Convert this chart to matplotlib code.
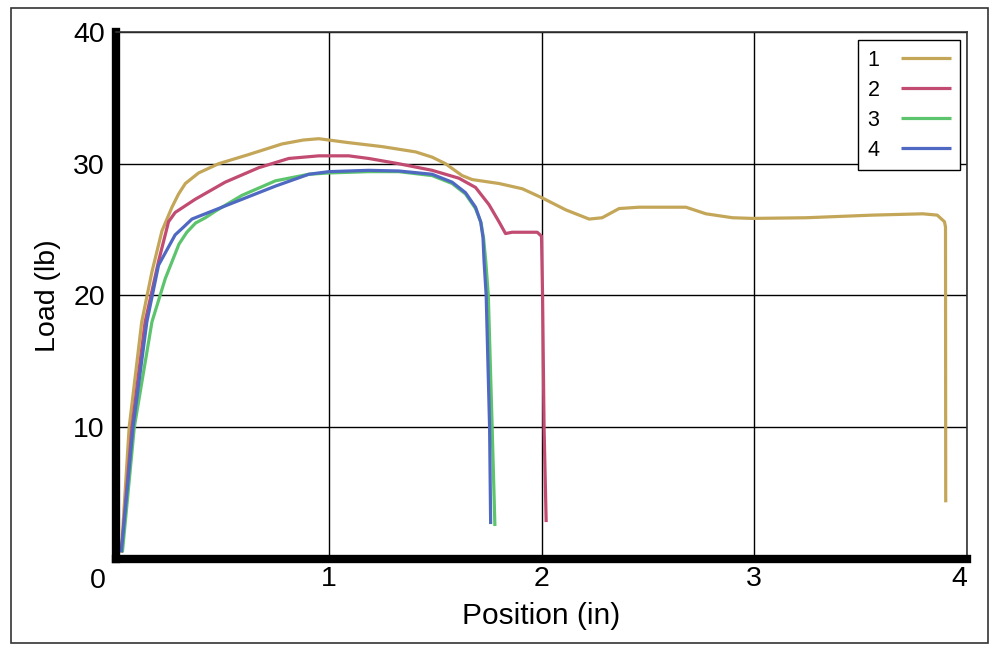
import matplotlib

matplotlib.use("Agg")
import matplotlib.pyplot as plt
from matplotlib.patches import Rectangle


# load vs position traces
POS_1 = [0.025, 0.062, 0.121, 0.169, 0.216, 0.263, 0.294, 0.326, 0.388, 0.482,
         0.624, 0.78, 0.88, 0.953, 1.0, 1.094, 1.251, 1.408, 1.486, 1.549,
         1.627, 1.674, 1.8, 1.91, 2.004, 2.114, 2.224, 2.285, 2.365, 2.459,
         2.679, 2.773, 2.898, 2.992, 3.243, 3.556, 3.792, 3.86, 3.894, 3.899,
         3.90]
LOAD_1 = [0.5, 10.0, 18.0, 21.8, 24.9, 26.7, 27.7, 28.5, 29.3, 30.0,
          30.7, 31.5, 31.8, 31.9, 31.8, 31.6, 31.3, 30.9, 30.5, 30.0,
          29.1, 28.8, 28.5, 28.1, 27.4, 26.5, 25.8, 25.9, 26.6, 26.7,
          26.7, 26.2, 25.9, 25.85, 25.9, 26.1, 26.2, 26.1, 25.6, 25.2,
          4.3]

POS_2 = [0.025, 0.075, 0.137, 0.2, 0.247, 0.278, 0.372, 0.513, 0.671, 0.812,
         0.953, 1.094, 1.188, 1.329, 1.486, 1.612, 1.69, 1.753, 1.8, 1.831,
         1.862, 1.98, 2.0, 2.005, 2.012, 2.022]
LOAD_2 = [0.5, 10.0, 18.0, 22.6, 25.6, 26.3, 27.3, 28.6, 29.7, 30.4,
          30.6, 30.6, 30.4, 30.0, 29.5, 28.9, 28.2, 26.9, 25.6, 24.7,
          24.8, 24.8, 24.5, 20.0, 10.0, 2.8]

POS_3 = [0.03, 0.086, 0.169, 0.232, 0.296, 0.333, 0.374, 0.42, 0.467, 0.592,
         0.749, 0.906, 1.0, 1.188, 1.329, 1.486, 1.58, 1.643, 1.69, 1.716,
         1.728, 1.738, 1.75, 1.768, 1.781]
LOAD_3 = [0.5, 10.0, 18.0, 21.3, 23.9, 24.8, 25.5, 25.9, 26.4, 27.6,
          28.7, 29.2, 29.3, 29.4, 29.4, 29.1, 28.5, 27.7, 26.6, 25.5,
          24.3, 22.6, 20.0, 10.0, 2.5]

POS_4 = [0.025, 0.08, 0.145, 0.2, 0.278, 0.318, 0.357, 0.388, 0.435, 0.592,
         0.749, 0.906, 1.0, 1.188, 1.329, 1.486, 1.58, 1.643, 1.69, 1.714,
         1.725, 1.73, 1.74, 1.756, 1.761]
LOAD_4 = [0.5, 10.0, 18.0, 22.3, 24.6, 25.2, 25.8, 26.0, 26.3, 27.3,
          28.3, 29.2, 29.4, 29.5, 29.45, 29.2, 28.6, 27.8, 26.7, 25.6,
          24.4, 22.6, 20.0, 10.0, 2.65]

SERIES = [
    ("1", POS_1, LOAD_1, "#c4a659"),
    ("2", POS_2, LOAD_2, "#c24b72"),
    ("3", POS_3, LOAD_3, "#5cc46c"),
    ("4", POS_4, LOAD_4, "#4f69c2"),
]

X_TICKS = [1, 2, 3, 4]
Y_TICKS = [10, 20, 30, 40]

FONT = "Liberation Sans"


def main() -> None:
    plt.rcParams["font.family"] = [FONT, "DejaVu Sans"]

    fig = plt.figure(figsize=(10.0, 6.53), dpi=100)
    ax = fig.add_axes([0.116, 0.144, 0.851, 0.807])

    for label, xs, ys, color in SERIES:
        ax.plot(xs, ys, color=color, linewidth=2.3, label=label,
                solid_joinstyle="round", solid_capstyle="butt")

    ax.set_xlim(0, 4)
    ax.set_ylim(0, 40)
    ax.set_xticks(X_TICKS)
    ax.set_yticks(Y_TICKS)
    ax.tick_params(length=0, labelsize=20.5)
    ax.tick_params(axis="x", pad=5)
    ax.tick_params(axis="y", pad=8)
    # the last x label sits just inside the frame
    ax.get_xticklabels()[-1].set_horizontalalignment("right")

    ax.grid(True, color="black", linewidth=1.0)
    ax.set_axisbelow(True)

    for side in ("left", "bottom"):
        ax.spines[side].set_linewidth(6.0)
        ax.spines[side].set_color("black")
    for side in ("top", "right"):
        ax.spines[side].set_linewidth(1.2)
        ax.spines[side].set_color("#333333")

    ax.set_xlabel("Position (in)", fontsize=21.5, labelpad=7)
    ax.set_ylabel("Load (lb)", fontsize=20.5, labelpad=9)

    # origin label shared by both axes
    ax.text(-0.012, -0.018, "0", transform=ax.transAxes, fontsize=20.5,
            ha="right", va="top")

    leg = ax.legend(loc="upper right", bbox_to_anchor=(0.992, 0.985),
                    borderaxespad=0, fontsize=15.5, markerfirst=False,
                    handlelength=2.3, labelspacing=0.42, fancybox=False,
                    framealpha=1, borderpad=0.45, handletextpad=1.0)
    leg.get_frame().set_edgecolor("black")
    leg.get_frame().set_linewidth(1.0)

    fig.patches.append(Rectangle((0.0107, 0.0153), 0.977, 0.972,
                                 transform=fig.transFigure, fill=False,
                                 edgecolor="#333333", linewidth=1.2))

    fig.savefig("out.png", dpi=100)
    plt.close(fig)


if __name__ == "__main__":
    main()
